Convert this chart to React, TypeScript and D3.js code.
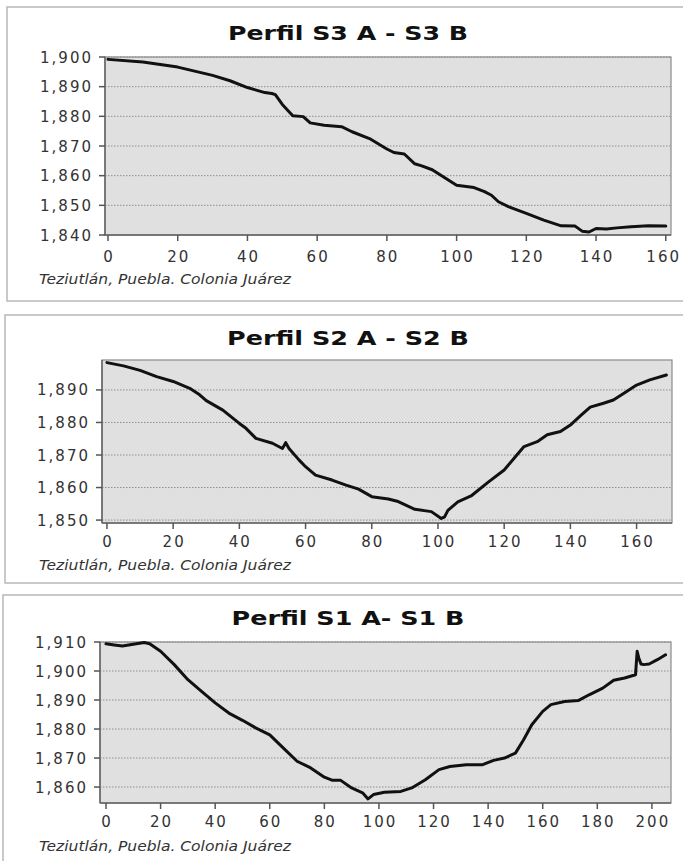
import React from "react";
import * as d3 from "d3";

// ---------- data ----------
const s3Dist = [0, 10, 20, 30, 35, 40, 45, 47, 48, 50, 53, 56, 58, 62, 67, 70, 75, 80, 82, 85, 88, 90, 93, 100, 105, 108, 110, 112, 115, 120, 125, 130, 134, 136, 138, 140, 143, 146, 150, 155, 160];
const s3Elev = [1899.2, 1898.3, 1896.6, 1893.8, 1892, 1889.7, 1888, 1887.7, 1887.3, 1884, 1880.2, 1879.9, 1877.8, 1877, 1876.5, 1874.8, 1872.5, 1869, 1867.8, 1867.3, 1864, 1863.3, 1862, 1856.8, 1856, 1854.6, 1853.4, 1851.2, 1849.5, 1847.3, 1845, 1843.1, 1843, 1841.3, 1841, 1842.2, 1842, 1842.4, 1842.8, 1843.1, 1843];

const s2Dist = [0, 5, 10, 15, 20, 25, 28, 30, 35, 40, 42, 45, 50, 53, 54, 55, 58, 60, 63, 68, 72, 76, 80, 85, 88, 93, 98, 101, 102, 103, 106, 110, 115, 120, 123, 126, 130, 133, 137, 140, 143, 146, 150, 153, 157, 160, 164, 169];
const s2Elev = [1898.4, 1897.4, 1896, 1894.1, 1892.6, 1890.5, 1888.5, 1886.7, 1883.8, 1879.7, 1878.2, 1875.1, 1873.6, 1872, 1873.8, 1872, 1868.5, 1866.4, 1863.8, 1862.3, 1860.8, 1859.5, 1857.2, 1856.5, 1855.7, 1853.3, 1852.6, 1850.5, 1851, 1853, 1855.6, 1857.4, 1861.5, 1865.4, 1869, 1872.6, 1874.1, 1876.2, 1877.2, 1879.2, 1882, 1884.7, 1885.9, 1886.9, 1889.5, 1891.5, 1893.1, 1894.6];

const s1Dist = [0, 3, 6, 10, 14, 16, 20, 25, 30, 35, 40, 45, 50, 55, 60, 65, 70, 75, 80, 83, 86, 90, 94, 96, 98, 102, 108, 112, 117, 122, 126, 132, 138, 142, 146, 150, 153, 156, 160, 163, 168, 173, 177, 182, 186, 190, 194, 194.6, 195.2, 196, 197, 199, 202, 205];
const s1Elev = [1909.4, 1909, 1908.6, 1909.2, 1909.8, 1909.4, 1906.8, 1902.2, 1897, 1893, 1889, 1885.5, 1883, 1880.3, 1878, 1873.4, 1868.9, 1866.6, 1863.4, 1862.3, 1862.3, 1859.7, 1858, 1855.9, 1857.4, 1858.2, 1858.5, 1859.7, 1862.5, 1866, 1867.1, 1867.7, 1867.7, 1869.2, 1870, 1871.7, 1876.3, 1881.5, 1886.1, 1888.4, 1889.5, 1889.8, 1891.8, 1894.1, 1896.8, 1897.6, 1898.7, 1906.8, 1904.5, 1902.4, 1902.2, 1902.4, 1903.9, 1905.6];

const s3Title = "Perfil S3 A - S3 B";
const s2Title = "Perfil S2 A - S2 B";
const s1Title = "Perfil S1 A- S1 B";
const caption = "Teziutlán, Puebla. Colonia Juárez";

const s3XTicks = [0, 20, 40, 60, 80, 100, 120, 140, 160];
const s3YTicks = [1840, 1850, 1860, 1870, 1880, 1890, 1900];
const s2XTicks = [0, 20, 40, 60, 80, 100, 120, 140, 160];
const s2YTicks = [1850, 1860, 1870, 1880, 1890];
const s1XTicks = [0, 20, 40, 60, 80, 100, 120, 140, 160, 180, 200];
const s1YTicks = [1860, 1870, 1880, 1890, 1900, 1910];

const fmt = d3.format(",");
const FONT = "'DejaVu Sans', Verdana, sans-serif";
const SVG_W = 683;

type PanelProps = {
  frame: { x: number; y: number; w: number; h: number };
  plot: { left: number; right: number; top: number; bottom: number };
  titleY: number;
  titleW: number;
  tickY: number;
  captionY: number;
  title: string;
  xs: number[];
  ys: number[];
  xDomain: [number, number];
  yDomain: [number, number];
  xTicks: number[];
  yTicks: number[];
};

function Panel(p: PanelProps) {
  const x = d3.scaleLinear().domain(p.xDomain).range([p.plot.left, p.plot.right]);
  const y = d3.scaleLinear().domain(p.yDomain).range([p.plot.bottom, p.plot.top]);
  const pts: [number, number][] = p.xs.map((d, i) => [d, p.ys[i]]);
  const line = d3
    .line<[number, number]>()
    .x((d) => x(d[0]))
    .y((d) => y(d[1]))
    .curve(d3.curveLinear);
  const { left, right, top, bottom } = p.plot;
  const tickFs = 15;
  const tickLs = 2;
  return (
    <g>
      <rect x={p.frame.x} y={p.frame.y} width={p.frame.w} height={p.frame.h} fill="#fff" stroke="#b8b8b8" strokeWidth={1.5} />
      <text x={348} y={p.titleY} textAnchor="middle" fontFamily={FONT} fontWeight="bold" fontSize={19} fill="#111" textLength={p.titleW} lengthAdjust="spacingAndGlyphs">
        {p.title}
      </text>
      <rect x={left} y={top} width={right - left} height={bottom - top} fill="#e0e0e0" stroke="#8a8a8a" strokeWidth={1.2} />
      {p.yTicks.map((t) => (
        <line key={"g" + t} x1={left} x2={right} y1={y(t)} y2={y(t)} stroke="#8f8f8f" strokeWidth={1} strokeDasharray="1.5,1.5" />
      ))}
      <path d={line(pts) || ""} fill="none" stroke="#111" strokeWidth={3} strokeLinejoin="round" strokeLinecap="round" />
      <line x1={left} x2={left} y1={top} y2={bottom} stroke="#666" strokeWidth={1.5} />
      <line x1={left} x2={right} y1={bottom} y2={bottom} stroke="#666" strokeWidth={1.5} />
      {p.yTicks.map((t) => (
        <g key={"y" + t}>
          <line x1={left - 6} x2={left} y1={y(t)} y2={y(t)} stroke="#555" strokeWidth={1.5} />
          <text x={left - 12} y={y(t) + 5.5} textAnchor="end" fontFamily={FONT} fontSize={tickFs} fill="#333" letterSpacing={2}>
            {fmt(t)}
          </text>
        </g>
      ))}
      {p.xTicks.map((t) => {
        const label = String(t);
        const halfW = (label.length * (tickFs * 0.636 + tickLs)) / 2;
        const cx = Math.min(x(t) + tickLs / 2, SVG_W - 2 - halfW);
        return (
          <g key={"x" + t}>
            <line x1={x(t)} x2={x(t)} y1={bottom} y2={bottom + 6} stroke="#555" strokeWidth={1.5} />
            <text x={cx} y={p.tickY} textAnchor="middle" fontFamily={FONT} fontSize={tickFs} fill="#333" letterSpacing={tickLs}>
              {label}
            </text>
          </g>
        );
      })}
      <text x={39} y={p.captionY} fontFamily={FONT} fontStyle="italic" fontSize={13.5} fill="#333" textLength={252} lengthAdjust="spacingAndGlyphs">
        {caption}
      </text>
    </g>
  );
}

export default function App() {
  return (
    <svg width={SVG_W} height={861} style={{ position: "absolute", left: 0, top: 0, display: "block", background: "#fff" }}>
      <Panel
        frame={{ x: 7, y: 7, w: 700, h: 294 }}
        plot={{ left: 105, right: 671, top: 57, bottom: 235 }}
        titleY={40}
        titleW={240}
        tickY={262}
        captionY={284}
        title={s3Title}
        xs={s3Dist}
        ys={s3Elev}
        xDomain={[-0.86, 161.5]}
        yDomain={[1840, 1900]}
        xTicks={s3XTicks}
        yTicks={s3YTicks}
      />
      <Panel
        frame={{ x: 5, y: 315, w: 700, h: 268 }}
        plot={{ left: 102, right: 672, top: 360, bottom: 523 }}
        titleY={345}
        titleW={242}
        tickY={547}
        captionY={570}
        title={s2Title}
        xs={s2Dist}
        ys={s2Elev}
        xDomain={[-1.5, 170.7]}
        yDomain={[1849.1, 1899.2]}
        xTicks={s2XTicks}
        yTicks={s2YTicks}
      />
      <Panel
        frame={{ x: 3, y: 595, w: 700, h: 300 }}
        plot={{ left: 100, right: 671, top: 642, bottom: 803 }}
        titleY={625}
        titleW={233}
        tickY={827}
        captionY={851}
        title={s1Title}
        xs={s1Dist}
        ys={s1Elev}
        xDomain={[-2.2, 207]}
        yDomain={[1854.5, 1910]}
        xTicks={s1XTicks}
        yTicks={s1YTicks}
      />
    </svg>
  );
}
